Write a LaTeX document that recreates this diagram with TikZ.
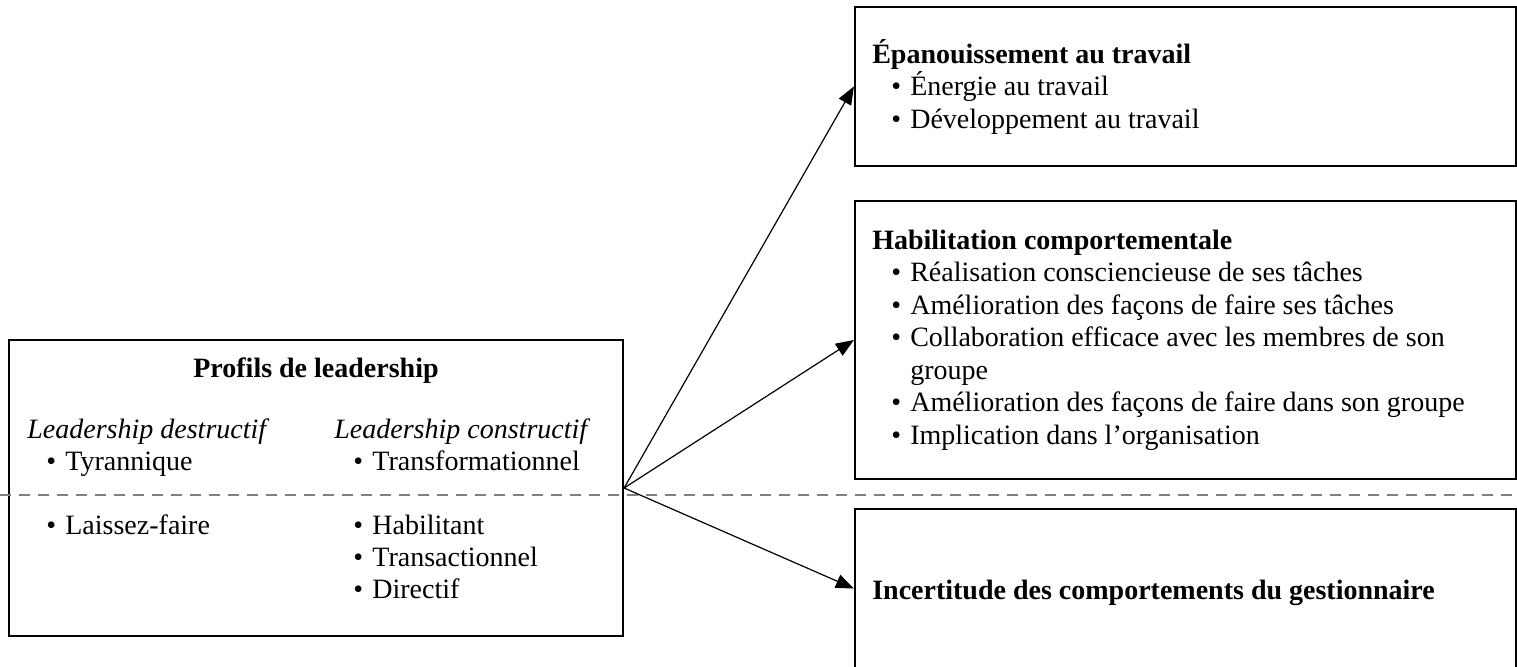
\documentclass[tikz,border=0pt]{standalone}
\usepackage{fontspec}
\setmainfont{Liberation Serif}
\usetikzlibrary{arrows.meta}
\newcommand\itm[1]{\hspace*{9.5pt}\makebox[9.5pt][l]{•}#1}
\newcommand\cont[1]{\hspace*{19pt}#1}
\newcommand\litm[1]{\makebox[9.5pt][l]{•}#1}
\begin{document}
\begin{tikzpicture}[x=0.5pt,y=-0.5pt,
  font=\fontsize{14}{16.25}\selectfont,
  box/.style={draw, line width=1.1pt, inner sep=0pt},
  txt/.style={anchor=west, align=left, inner sep=0pt},
  arr/.style={-{Triangle[length=9pt,width=7pt]}, line width=0.6pt},
  sepline/.style={draw=gray, line width=1.3pt, dash pattern=on 5.5pt off 4pt},
  lbl/.style={anchor=base west, inner sep=0pt}]
\useasboundingbox (0,0) rectangle (1517,666);

% right boxes
\node[box, minimum width=330.5pt, minimum height=79.5pt] (B1) at (1185.5,86.5) {};
\node[box, minimum width=330.5pt, minimum height=139pt] (B2) at (1185.5,340) {};
\node[box, minimum width=330.5pt, minimum height=79.5pt] (B3) at (1185.5,588.5) {};

\node[txt] (T1) at ([xshift=9pt]B1.west) {\textbf{Épanouissement au travail}\\
\itm{Énergie au travail}\\
\itm{Développement au travail}};

\node[txt] (T2) at ([xshift=9pt]B2.west) {\textbf{Habilitation comportementale}\\
\itm{Réalisation consciencieuse de ses tâches}\\
\itm{Amélioration des façons de faire ses tâches}\\
\itm{Collaboration efficace avec les membres de son}\\
\cont{groupe}\\
\itm{Amélioration des façons de faire dans son groupe}\\
\itm{Implication dans l’organisation}};

\node[txt] (T3) at ([xshift=9pt,yshift=-2pt]B3.west) {\textbf{Incertitude des comportements du gestionnaire}};

% left box
\node[box, minimum width=307pt, minimum height=148pt] (L) at (316,488) {};
\node[anchor=base, inner sep=0pt] (Lt) at (316,377) {\textbf{Profils de leadership}};
\node[lbl] (Ld) at (27,438) {\textit{Leadership destructif}};
\node[lbl] (Ld1) at (46,470) {\litm{Tyrannique}};
\node[lbl] (Ld2) at (46,534) {\litm{Laissez-faire}};
\node[lbl] (Lc) at (334,438) {\textit{Leadership constructif}};
\node[lbl] (Lc1) at (353,470) {\litm{Transformationnel}};
\node[lbl] (Lc2) at (353,534) {\litm{Habilitant}};
\node[lbl] (Lc3) at (353,566) {\litm{Transactionnel}};
\node[lbl] (Lc4) at (353,598) {\litm{Directif}};

% dashed separator
\coordinate (dl) at (0,495);
\coordinate (dr) at (1517,495);
\draw[sepline] (dl) -- (dr);

% arrows
\draw[arr] (L.east) -- (B1.west);
\draw[arr] (L.east) -- (B2.west);
\draw[arr] (L.east) -- (B3.west);
\end{tikzpicture}
\end{document}
